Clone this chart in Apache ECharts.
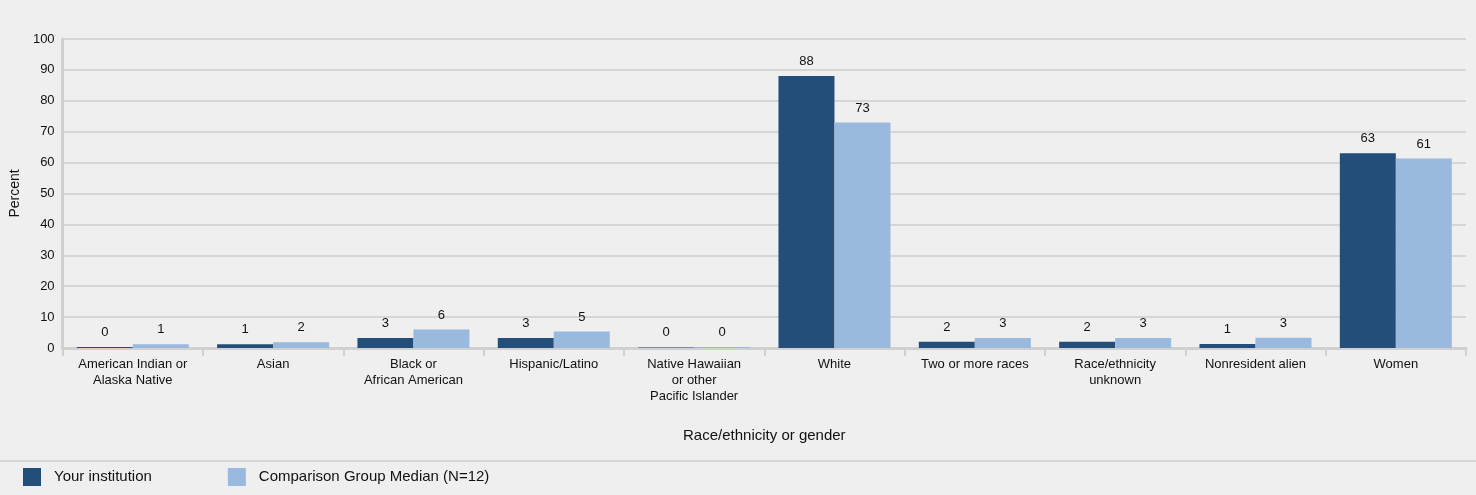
<!DOCTYPE html>
<html><head><meta charset="utf-8">
<script src="https://cdn.jsdelivr.net/npm/echarts@6/dist/echarts.min.js"></script>
<style>html,body{margin:0;padding:0;background:#efefef}#c{width:1476px;height:495px}</style>
</head><body><div id="c"></div>
<script>
const categories = ["American Indian or\nAlaska Native","Asian","Black or\nAfrican American","Hispanic/Latino","Native Hawaiian\nor other\nPacific Islander","White","Two or more races","Race/ethnicity\nunknown","Nonresident alien","Women"];
const yourInstitution = [0.3,1.2,3.2,3.2,0.2,88,2,2,1.3,63];
const comparisonMedian = [1.2,1.9,6,5.3,0.3,73,3.2,3.2,3.3,61.3];
const seriesNames = ["Your institution","Comparison Group Median (N=12)"];
const chart = echarts.init(document.getElementById('c'));
const lbl = {show:true,position:'top',distance:8,color:'#111',fontSize:13,fontFamily:'Liberation Sans, Arial',formatter:p=>Math.round(p.value)};
chart.setOption({
  backgroundColor:'#efefef',
  textStyle:{fontFamily:'Liberation Sans, Arial'},
  grid:{left:58,right:10,top:39,bottom:147},
  legend:{left:18,bottom:4,itemWidth:18,itemHeight:18,itemGap:76,icon:'rect',
    textStyle:{fontSize:15,color:'#111',padding:[0,0,0,8]},data:seriesNames},
  graphic:[{type:'line',shape:{x1:0,y1:461,x2:1476,y2:461},style:{stroke:'#d6d6d6',lineWidth:2}}],
  xAxis:{type:'category',data:categories,name:'Race/ethnicity or gender',nameLocation:'middle',nameGap:80,
    nameTextStyle:{fontSize:15,color:'#111'},
    axisLine:{lineStyle:{color:'#d0d0d0',width:3}},axisTick:{show:true,length:8,lineStyle:{color:'#d0d0d0',width:2}},
    axisLabel:{color:'#111',fontSize:13,lineHeight:16,interval:0,margin:8}},
  yAxis:{type:'value',min:0,max:100,interval:10,name:'Percent',nameLocation:'middle',nameGap:38,
    nameTextStyle:{fontSize:14,color:'#111'},
    axisLine:{show:true,lineStyle:{color:'#d0d0d0',width:3}},axisTick:{show:false},
    axisLabel:{color:'#111',fontSize:13},splitLine:{lineStyle:{color:'#d6d6d6',width:2}}},
  series:[
    {name:seriesNames[0],type:'bar',data:yourInstitution,barWidth:56,barGap:'0%',itemStyle:{color:'#234e7a'},label:lbl},
    {name:seriesNames[1],type:'bar',data:comparisonMedian,barWidth:56,itemStyle:{color:'#9ab9de'},label:lbl}
  ]
});
</script></body></html>
